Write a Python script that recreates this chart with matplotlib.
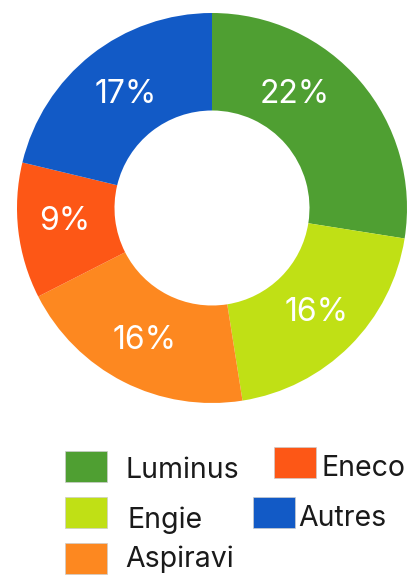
import numpy as np
import matplotlib
matplotlib.use("Agg")
import matplotlib.pyplot as plt
from matplotlib.patches import Rectangle

categories = ["Luminus", "Engie", "Aspiravi", "Eneco", "Autres"]
values = [22, 16, 16, 9, 17]
colors = ["#4f9f32", "#c0e015", "#fd8820", "#fd5716", "#125ac6"]

W, H = 407, 575
fig = plt.figure(figsize=(W / 100, H / 100), dpi=100)

cx, cy, R = 212, 208, 195
ax = fig.add_axes([(cx - R) / W, (H - cy - R) / H, 2 * R / W, 2 * R / H])

wedges, _ = ax.pie(values, colors=colors, startangle=90, counterclock=False,
                   radius=1, wedgeprops=dict(width=0.5, linewidth=0))
ax.set_xlim(-1, 1)
ax.set_ylim(-1, 1)
ax.set_aspect("equal")
ax.axis("off")

# label angle offsets (deg, clockwise) for fine placement
ang_off = [-13.5, 0, 0, 1.5, 1]
rad = [0.72, 0.76, 0.76, 0.76, 0.73]
total = sum(values)
cum = 0
for i, v in enumerate(values):
    mid = (cum + v / 2) / total * 360 + ang_off[i]
    cum += v
    th = np.deg2rad(90 - mid)
    ax.text(rad[i] * np.cos(th), rad[i] * np.sin(th), f"{v}%", color="white",
            ha="center", va="center", fontsize=23, family="Inter", fontweight="normal")

# legend, positioned manually in pixel coords (x, y top-left of square, text x, text y centre)
leg_pos = [(65, 451, 125, 470), (65, 497, 128, 520), (65, 543, 125, 559),
           (274, 447, 322, 468), (253, 497, 298, 518)]
sq_w, sq_h = 42, 31
for (x, y, tx, ty), name, c in zip(leg_pos, categories, colors):
    fig.patches.append(Rectangle((x / W, 1 - (y + sq_h) / H), sq_w / W, sq_h / H,
                                 transform=fig.transFigure, facecolor=c,
                                 edgecolor="#cccccc", linewidth=0.5))
    fig.text(tx / W, 1 - ty / H, name, ha="left", va="center",
             fontsize=20.5, family="Inter", color="#1a1a1a")

fig.savefig("out.png", dpi=100)
